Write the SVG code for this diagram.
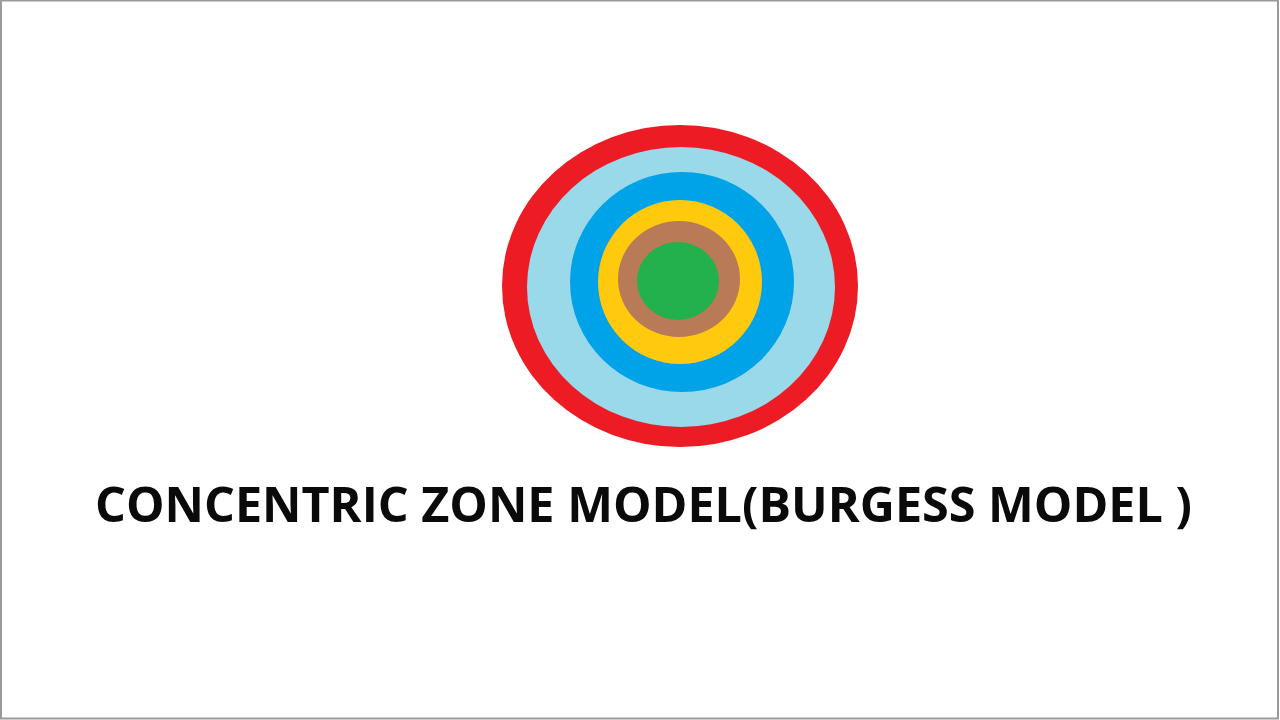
<svg xmlns="http://www.w3.org/2000/svg" width="1280" height="720" viewBox="0 0 1280 720">
  <style>
    .title { font-family: "Open Sans", "Liberation Sans", sans-serif; font-weight: 700; font-size: 48px; fill: #0a0a0a; }
  </style>
  <rect x="0" y="0" width="1280" height="720" fill="#ffffff"/>
  <rect x="1" y="0.5" width="1277" height="718" fill="none" stroke="#9a9a9a" stroke-width="2"/>
  <g id="zones">
    <ellipse id="zone-red" cx="680" cy="286" rx="178" ry="161" fill="#ED1C24"/>
    <ellipse id="zone-lightblue" cx="681" cy="287" rx="154" ry="140" fill="#99D9EA"/>
    <ellipse id="zone-blue" cx="682" cy="282" rx="112" ry="110" fill="#00A2E8"/>
    <ellipse id="zone-yellow" cx="680" cy="282" rx="82" ry="82" fill="#FFC90E"/>
    <ellipse id="zone-brown" cx="679" cy="279" rx="61" ry="58" fill="#B97A57"/>
    <ellipse id="zone-green" cx="678" cy="281" rx="41" ry="39" fill="#22B14C"/>
  </g>
  <g id="connectors"/>
  <text class="title" x="95" y="522" textLength="1097" lengthAdjust="spacingAndGlyphs">CONCENTRIC ZONE MODEL(BURGESS MODEL )</text>
</svg>
